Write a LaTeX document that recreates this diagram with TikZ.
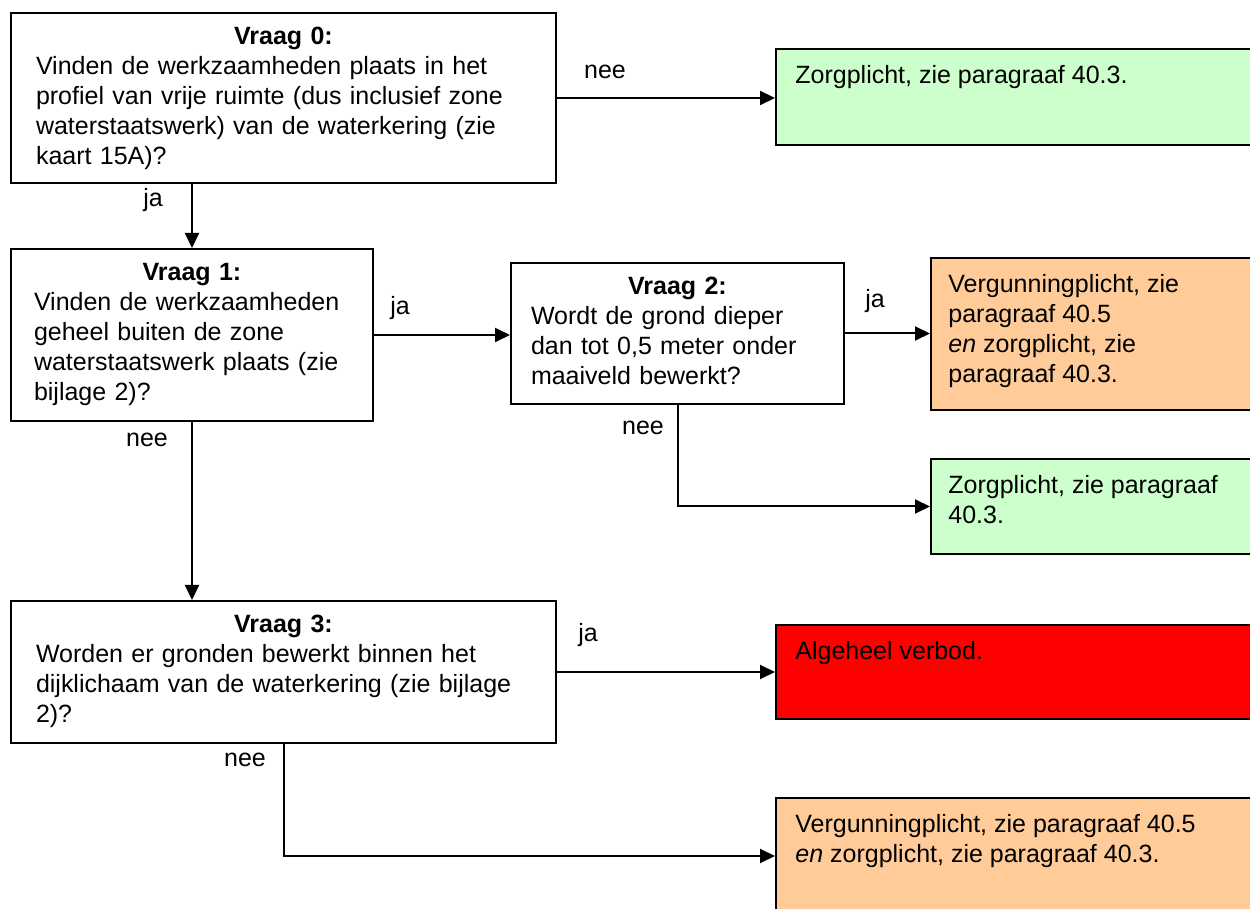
\documentclass[tikz,border=0pt]{standalone}
\usepackage{fontspec}
\setmainfont{Liberation Sans}
\usetikzlibrary{arrows.meta,positioning}
\definecolor{groenkl}{HTML}{CCFFCC}
\definecolor{oranjekl}{HTML}{FFCC99}
\definecolor{roodkl}{HTML}{FF0000}
\newcommand{\tekstfont}{\fontsize{12.5}{15}\selectfont}
\newcommand{\kop}[1]{\noindent\makebox[\hsize]{\bfseries #1}\\}
\tikzset{
  vak/.style = {draw, line width=1pt, anchor=north west, inner sep=0pt},
  vraag/.style = {vak, fill=white},
  groen/.style = {vak, fill=groenkl},
  oranje/.style = {vak, fill=oranjekl},
  rood/.style = {vak, fill=roodkl},
  tekst/.style = {inner sep=0pt, align=left, font=\tekstfont},
  lab/.style = {inner sep=0pt, font=\tekstfont},
  pijl/.style = {line width=1pt, -{Triangle[length=7.5pt,width=7pt]}}
}

\begin{document}
\begin{tikzpicture}[x=0.5pt, y=-0.5pt]
  \useasboundingbox (0,0) rectangle (1250,909);

  % vragen
  \node[vraag, minimum width=272.5pt, minimum height=85pt] (q0) at (10,12) {};
  \node[tekst, text width=247.5pt, below=7.5pt of q0.north] (t0)
    {\kop{Vraag 0:}Vinden de werkzaamheden plaats in het\\
     profiel van vrije ruimte (dus inclusief zone\\
     waterstaatswerk) van de waterkering (zie\\
     kaart 15A)?};
  \node[vraag, minimum width=181pt, minimum height=86pt] (q1) at (10,248) {};
  \node[tekst, text width=158pt, below=7.5pt of q1.north] (t1)
    {\kop{Vraag 1:}Vinden de werkzaamheden\\
     geheel buiten de zone\\
     waterstaatswerk plaats (zie\\
     bijlage 2)?};
  \node[vraag, minimum width=166.5pt, minimum height=70.5pt] (q2) at (510,262) {};
  \node[tekst, text width=146.5pt, below=7.5pt of q2.north] (t2)
    {\kop{Vraag 2:}Wordt de grond dieper\\
     dan tot 0,5 meter onder\\
     maaiveld bewerkt?};
  \node[vraag, minimum width=272.5pt, minimum height=71pt] (q3) at (10,600) {};
  \node[tekst, text width=247.5pt, below=7.5pt of q3.north] (t3)
    {\kop{Vraag 3:}Worden er gronden bewerkt binnen het\\
     dijklichaam van de waterkering (zie bijlage\\
     2)?};

  % uitkomsten
  \node[groen, minimum width=245pt, minimum height=48pt] (r0) at (775,48) {};
  \node[tekst, below right=8.5pt and 10pt of r0.north west] (u0)
    {Zorgplicht, zie paragraaf 40.3.};
  \node[oranje, minimum width=170pt, minimum height=76pt] (r2a) at (930,257) {};
  \node[tekst, below right=8.5pt and 9pt of r2a.north west] (u2a)
    {Vergunningplicht, zie\\ paragraaf 40.5\\ \emph{en} zorgplicht, zie\\ paragraaf 40.3.};
  \node[groen, minimum width=170pt, minimum height=47.5pt] (r2b) at (930,458) {};
  \node[tekst, below right=8.5pt and 9pt of r2b.north west] (u2b)
    {Zorgplicht, zie paragraaf\\ 40.3.};
  \node[rood, minimum width=245pt, minimum height=47pt] (r3a) at (775,624) {};
  \node[tekst, below right=8.5pt and 10pt of r3a.north west] (u3a)
    {Algeheel verbod.};
  \node[oranje, minimum width=245pt, minimum height=58pt] (r3b) at (775,797) {};
  \node[tekst, below right=8.5pt and 10pt of r3b.north west] (u3b)
    {Vergunningplicht, zie paragraaf 40.5\\ \emph{en} zorgplicht, zie paragraaf 40.3.};

  % pijlen
  \draw[pijl] (q0.east) -- (q0.east -| r0.west);
  \draw[pijl] (q1.north |- q0.south) -- (q1.north);
  \draw[pijl] (q1.east) -- (q1.east -| q2.west);
  \draw[pijl] (q2.east) -- (q2.east -| r2a.west);
  \draw[pijl] (q2.south) |- (r2b.west);
  \draw[pijl] (q1.south) -- (q1.south |- q3.north);
  \draw[pijl] (q3.east) -- (q3.east -| r3a.west);
  \draw[pijl] (q3.south) |- (r3b.west);

  % ja / nee
  \node[lab] (n0) at (605,72) {nee};
  \node[lab] (j0) at (153,200) {ja};
  \node[lab] (j1) at (400,308) {ja};
  \node[lab] (n1) at (147,440) {nee};
  \node[lab] (j2) at (875,301) {ja};
  \node[lab] (n2) at (643,428) {nee};
  \node[lab] (j3) at (588,635) {ja};
  \node[lab] (n3) at (245,760) {nee};
\end{tikzpicture}
\end{document}
